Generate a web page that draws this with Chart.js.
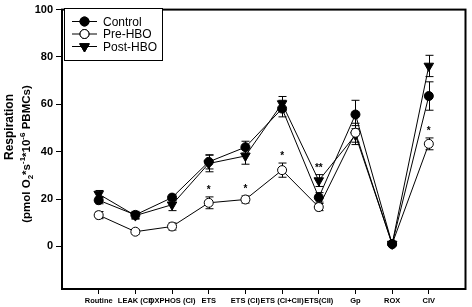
<!DOCTYPE html>
<html>
<head>
<meta charset="utf-8">
<script src="https://cdn.jsdelivr.net/npm/chart.js@4.4.1/dist/chart.umd.min.js"></script>
<style>
  html, body { margin: 0; padding: 0; background: #fff; }
  #wrap { width: 472px; height: 307px; }
</style>
</head>
<body>
<div id="wrap"><canvas id="chart"></canvas></div>
<script>
const categories = ['Routine', 'LEAK (CI)', 'OXPHOS (CI)', 'ETS', 'ETS (CI)', 'ETS (CI+CII)', 'ETS(CII)', 'Gp', 'ROX', 'CIV'];
const yTicks = [0, 20, 40, 60, 80, 100];

const controlVals = [19.5, 13.3, 20.6, 35.7, 41.9, 58.2, 20.7, 55.7, 1, 63.5];
const controlErr  = [1.5, 1.5, 1.2, 3, 2.5, 3.5, 2, 6, 0.5, 6];
const preVals     = [13.2, 6.2, 8.4, 18.4, 19.8, 32.2, 16.6, 48, 1, 43.3];
const preErr      = [1.5, 1, 1.5, 2.5, 1.5, 3, 1.5, 4, 0.5, 2.5];
const postVals    = [22.1, 13, 17.6, 35, 38.2, 60.3, 27.8, 47, 1, 76.2];
const postErr     = [1.5, 1.5, 2.5, 3.5, 3.5, 3, 2.5, 4, 0.5, 4.5];

// significance marks: category, text, which series it sits above
const marks = [
  { cat: 'ETS', text: '*', series: 1 },
  { cat: 'ETS (CI)', text: '*', series: 1 },
  { cat: 'ETS (CI+CII)', text: '*', series: 1 },
  { cat: 'ETS(CII)', text: '**', series: 2 },
  { cat: 'CIV', text: '*', series: 1 },
];

const toPoints = (vals) => vals.map((v, i) => ({ x: i + 1, y: v }));
const errors = [controlErr, preErr, postErr];
const FONT = '"Liberation Sans", Arial, sans-serif';

const errorBars = {
  id: 'errorBars',
  beforeDatasetsDraw(chart) {
    const ctx = chart.ctx;
    const ys = chart.scales.y;
    ctx.save();
    ctx.strokeStyle = '#000';
    ctx.lineWidth = 1;
    chart.data.datasets.forEach((ds, di) => {
      const meta = chart.getDatasetMeta(di);
      meta.data.forEach((pt, i) => {
        const v = ds.data[i].y, e = errors[di][i];
        const top = ys.getPixelForValue(v + e);
        const bot = ys.getPixelForValue(v - e);
        const x = Math.round(pt.x) + 0.5;
        ctx.beginPath();
        ctx.moveTo(x, top); ctx.lineTo(x, bot);
        ctx.moveTo(x - 4, top); ctx.lineTo(x + 4, top);
        ctx.moveTo(x - 4, bot); ctx.lineTo(x + 4, bot);
        ctx.stroke();
      });
    });
    ctx.restore();
  }
};

const extras = {
  id: 'extras',
  afterDraw(chart) {
    const ctx = chart.ctx;
    const a = chart.chartArea;
    const xs = chart.scales.x, ys = chart.scales.y;
    ctx.save();

    // frame
    ctx.strokeStyle = '#000';
    ctx.lineWidth = 2;
    ctx.strokeRect(a.left, a.top, a.right - a.left, a.bottom - a.top);

    // stars
    ctx.fillStyle = '#000';
    ctx.font = 'bold 10px ' + FONT;
    ctx.textAlign = 'center';
    ctx.textBaseline = 'alphabetic';
    marks.forEach(m => {
      const i = categories.indexOf(m.cat);
      const v = chart.data.datasets[m.series].data[i].y + errors[m.series][i];
      ctx.fillText(m.text, xs.getPixelForValue(i + 1), ys.getPixelForValue(v) - 4);
    });

    // legend
    ctx.lineWidth = 1;
    ctx.fillStyle = '#fff';
    ctx.fillRect(64.5, 8.5, 98, 52);
    ctx.strokeRect(64.5, 8.5, 98, 52);
    ctx.font = '12px ' + FONT;
    ctx.textAlign = 'left';
    ctx.textBaseline = 'middle';
    const rowsY = [21.5, 34, 46.5];
    chart.data.datasets.forEach((ds, di) => {
      const y = rowsY[di];
      ctx.strokeStyle = '#000';
      ctx.beginPath(); ctx.moveTo(72, y); ctx.lineTo(97, y); ctx.stroke();
      Chart.helpers.drawPoint(ctx, {
        pointStyle: ds.pointStyle, rotation: ds.pointRotation || 0,
        radius: ds.pointRadius, borderWidth: 1
      }, 84.5, y);
      ctx.fillStyle = ds.pointBackgroundColor;
      ctx.strokeStyle = '#000';
      ctx.fill(); ctx.stroke();
      ctx.fillStyle = '#000';
      ctx.save();
      ctx.translate(103, y + 0.5);
      ctx.scale(1, 1.12);
      ctx.fillText(ds.label, 0, 0);
      ctx.restore();
    });

    // y title
    ctx.fillStyle = '#000';
    ctx.textBaseline = 'alphabetic';
    ctx.save();
    ctx.translate(13, 127);
    ctx.rotate(-Math.PI / 2);
    ctx.font = 'bold 12px ' + FONT;
    ctx.textAlign = 'center';
    ctx.fillText('Respiration', 0, 0);
    ctx.restore();

    const parts = [
      ['(pmol O', 0], ['2', 1], ['*s', 0], ['-1', -1], ['*10', 0], ['-6', -1], [' PBMCs)', 0]
    ];
    const big = 'bold 11.5px ' + FONT;
    const small = 'bold 8px ' + FONT;
    let total = 0;
    parts.forEach(([t, k]) => { ctx.font = k ? small : big; total += ctx.measureText(t).width; });
    ctx.save();
    ctx.translate(30, 154);
    ctx.rotate(-Math.PI / 2);
    ctx.textAlign = 'left';
    let x = -total / 2;
    parts.forEach(([t, k]) => {
      ctx.font = k ? small : big;
      const dy = k === 1 ? 3 : (k === -1 ? -5 : 0);
      ctx.fillText(t, x, dy);
      x += ctx.measureText(t).width;
    });
    ctx.restore();

    ctx.restore();
  }
};

new Chart(document.getElementById('chart'), {
  type: 'line',
  data: {
    datasets: [
      {
        label: 'Control', data: toPoints(controlVals),
        borderColor: '#000', borderWidth: 1,
        pointStyle: 'circle', pointRadius: 4.5,
        pointBackgroundColor: '#000', pointBorderColor: '#000', pointBorderWidth: 1,
      },
      {
        label: 'Pre-HBO', data: toPoints(preVals),
        borderColor: '#000', borderWidth: 1,
        pointStyle: 'circle', pointRadius: 4.5,
        pointBackgroundColor: '#fff', pointBorderColor: '#000', pointBorderWidth: 1,
      },
      {
        label: 'Post-HBO', data: toPoints(postVals),
        borderColor: '#000', borderWidth: 1,
        pointStyle: 'triangle', pointRotation: 180, pointRadius: 5.5,
        pointBackgroundColor: '#000', pointBorderColor: '#000', pointBorderWidth: 1,
      },
    ],
  },
  plugins: [errorBars, extras],
  options: {
    responsive: true,
    maintainAspectRatio: false,
    animation: false,
    layout: { padding: { top: 5, right: 3, left: 0, bottom: 0 } },
    plugins: { legend: { display: false }, tooltip: { enabled: false } },
    elements: { line: { tension: 0 } },
    scales: {
      x: {
        type: 'linear', min: 0, max: 11,
        afterFit: (s) => { s.height = 18; },
        afterBuildTicks: (s) => { s.ticks = categories.map((c, i) => ({ value: i + 1 })); },
        grid: { drawOnChartArea: false, color: '#000', tickLength: 5 },
        border: { color: '#000', width: 2 },
        ticks: {
          autoSkip: false, maxRotation: 0, minRotation: 0, padding: 2,
          color: '#000',
          font: { family: FONT, size: 7.5, weight: 'bold' },
          callback: (v) => categories[v - 1] || '',
        },
      },
      y: {
        min: -18, max: 100,
        afterFit: (s) => { s.width = 62; },
        afterBuildTicks: (s) => { s.ticks = yTicks.map(v => ({ value: v })); },
        grid: { drawOnChartArea: false, color: '#000', tickLength: 6 },
        border: { color: '#000', width: 2 },
        ticks: {
          color: '#000', padding: 3,
          font: { family: FONT, size: 11, weight: 'bold' },
        },
      },
    },
  },
});
</script>
</body>
</html>
